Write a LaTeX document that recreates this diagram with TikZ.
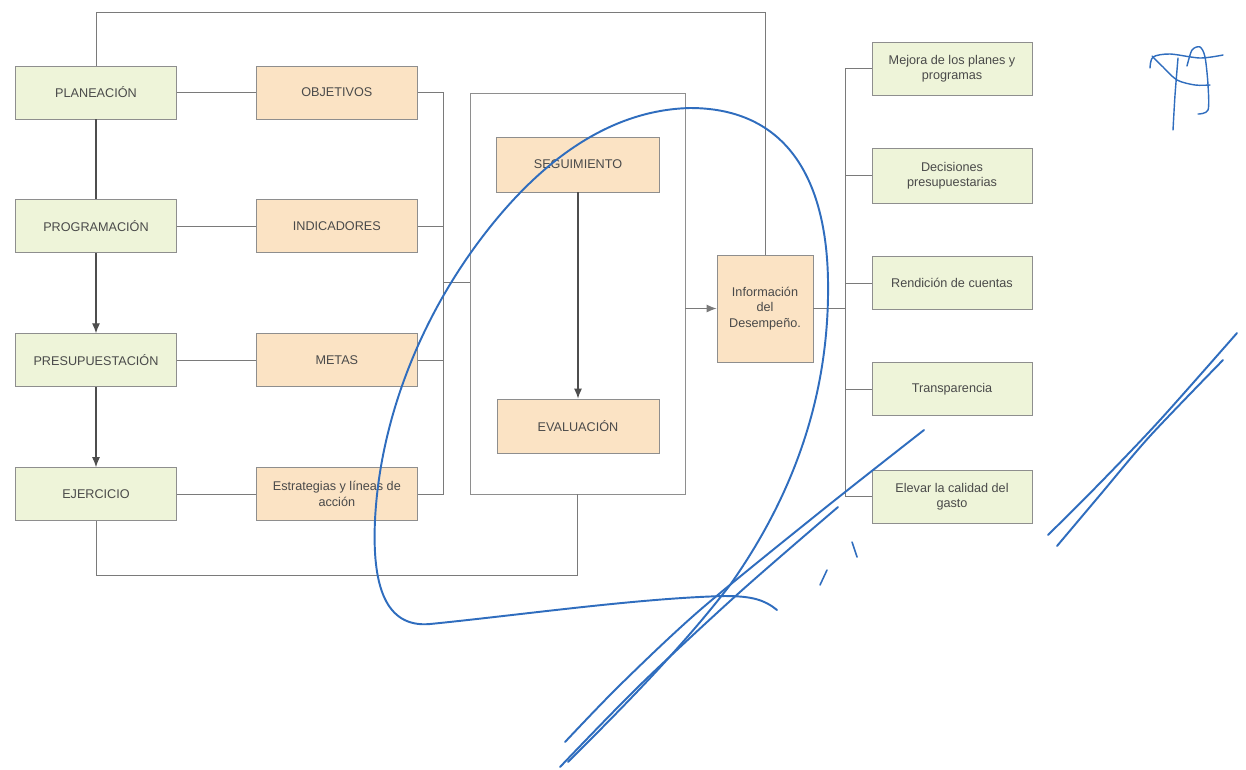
\documentclass[tikz,border=0pt]{standalone}
\usepackage{fontspec}
\setmainfont{Liberation Sans}
\usetikzlibrary{arrows.meta,positioning}
\definecolor{Edge}{HTML}{8E8E8E}
\definecolor{Wire}{HTML}{7A7A7A}
\definecolor{Spine}{HTML}{4E4E4E}
\definecolor{Ink}{HTML}{4A4A4A}
\definecolor{Leaf}{HTML}{EEF4D9}
\definecolor{Peach}{HTML}{FBE3C4}
\definecolor{Pen}{HTML}{2F6DBE}
\tikzset{
  fase/.style={draw=Edge,fill=Leaf,line width=.5pt,minimum width=3.22cm,minimum height=1.06cm,align=center,inner sep=.05cm,font=\fontsize{7.2}{8.8}\selectfont,text=Ink},
  pieza/.style={fase,fill=Peach},
  salida/.style={fase,minimum width=3.2cm},
  recuadro/.style={draw=Edge,line width=.5pt,minimum width=4.3cm,minimum height=8.02cm},
  link/.style={draw=Wire,line width=.5pt},
  spine/.style={draw=Spine,line width=.8pt},
  flow/.style={-{Latex[length=2mm,width=1.6mm]},draw=Spine,line width=.6pt},
  ink/.style={draw=Pen,line width=1.1pt,line cap=round,line join=round}
}
\begin{document}
\begin{tikzpicture}[x=0.02cm,y=-0.02cm]
  \fill[white] (0,0) rectangle (1246,769);
  \useasboundingbox (0,0) rectangle (1246,769);

  % ciclo presupuestario
  \node[fase] (plan) at (96,92.5) {PLANEACIÓN};
  \node[fase,below=1.6cm of plan] (prog) {PROGRAMACIÓN};
  \node[fase,below=1.6cm of prog] (pres) {PRESUPUESTACIÓN};
  \node[fase,below=1.6cm of pres] (ejer) {EJERCICIO};
  \draw[spine] (plan) -- (prog);
  \draw[flow] (prog) -- (pres);
  \draw[flow] (pres) -- (ejer);

  % elementos
  \node[pieza,right=1.58cm of plan] (obj) {OBJETIVOS};
  \node[pieza,right=1.58cm of prog] (ind) {INDICADORES};
  \node[pieza,right=1.58cm of pres] (met) {METAS};
  \node[pieza,right=1.58cm of ejer] (estr) {Estrategias y líneas de\\acción};
  \draw[link] (plan) -- (obj);
  \draw[link] (prog) -- (ind);
  \draw[link] (pres) -- (met);
  \draw[link] (ejer) -- (estr);
  \draw[link] (obj.east) -- ++(26,0) |- (estr.east);
  \draw[link] (ind.east) -- ++(26,0);
  \draw[link] (met.east) -- ++(26,0);

  % seguimiento y evaluacion
  \node[recuadro] (marco) at (577.5,293.5) {};
  \node[pieza,minimum width=3.26cm,minimum height=1.1cm] (seg) at (578,164.5) {SEGUIMIENTO};
  \node[pieza,minimum width=3.24cm,minimum height=1.08cm] (eval) at (578,426) {EVALUACIÓN};
  \draw[flow] (seg.south) -- (eval.north);
  \coordinate (busA) at (443,282);
  \draw[link] (busA) -- (busA -| marco.west);

  \node[pieza,minimum width=1.92cm,minimum height=2.14cm] (info) at (765,308.5) {Información\\del\\Desempeño.};
  \draw[flow,draw=Wire] (marco.east |- info.west) -- (info.west);
  \draw[link] (info.north) -- ++(0,-242) -| (plan.north);
  \draw[link] (ejer.south) -- ++(0,54) -| (marco.south);

  % resultados
  \node[salida] (mej) at (952,68.5) {Mejora de los planes y\\programas};
  \node[salida,minimum height=1.1cm] (dec) at (952,175.5) {Decisiones\\presupuestarias};
  \node[salida] (rend) at (952,283) {Rendición de cuentas};
  \node[salida] (trans) at (952,389) {Transparencia};
  \node[salida] (elev) at (952,496.5) {Elevar la calidad del\\gasto};
  \draw[link] (info.east) -- ++(33,0);
  \draw[link] (mej.west) -- ++(-26,0) |- (elev.west);
  \draw[link] (dec.west) -- ++(-26,0);
  \draw[link] (rend.west) -- ++(-26,0);
  \draw[link] (trans.west) -- ++(-26,0);

  % trazos a mano
  \draw[ink] (777,610) .. controls (765,600) and (752,596) .. (725,596)
    .. controls (640,598) and (520,615) .. (430,624)
    .. controls (385,628) and (372,585) .. (375,520)
    .. controls (380,420) and (420,320) .. (480,240)
    .. controls (540,160) and (610,110) .. (690,108)
    .. controls (780,108) and (826,170) .. (828,280)
    .. controls (830,400) and (790,500) .. (730,585)
    .. controls (680,650) and (620,710) .. (568,762);
  \draw[ink] plot[smooth] coordinates {(924,430) (820,512) (700,610) (620,685) (565,742)};
  \draw[ink] plot[smooth] coordinates {(838,507) (740,592) (640,685) (560,767)};
  \draw[ink] plot[smooth] coordinates {(1237,333) (1160,420) (1100,483) (1048,535)};
  \draw[ink] plot[smooth] coordinates {(1223,360) (1150,436) (1100,495) (1057,546)};
  \draw[ink,line width=.9pt] (852,542) -- (857,557);
  \draw[ink,line width=.9pt] (827,570) -- (820,585);
  \draw[ink,line width=.8pt] plot[smooth] coordinates {(1150,68) (1153,57) (1170,54) (1200,58) (1223,55)};
  \draw[ink,line width=.8pt] plot[smooth] coordinates {(1178,58) (1175,95) (1173,130)};
  \draw[ink,line width=.8pt] plot[smooth] coordinates {(1187,66) (1192,50) (1200,47) (1205,57) (1208,85) (1208,110) (1198,114)};
  \draw[ink,line width=.8pt] plot[smooth] coordinates {(1152,56) (1163,67) (1177,80) (1195,85) (1210,85)};
\end{tikzpicture}
\end{document}
